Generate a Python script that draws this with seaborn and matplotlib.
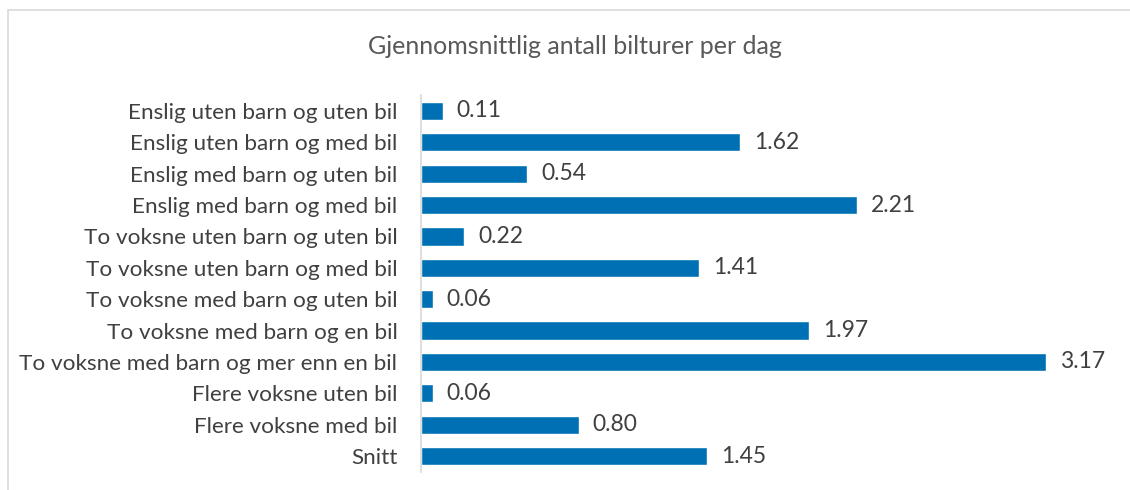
import matplotlib
matplotlib.use("Agg")
import matplotlib.pyplot as plt
import seaborn as sns
import pandas as pd
from matplotlib.patches import Rectangle

categories = [
    "Enslig uten barn og uten bil",
    "Enslig uten barn og med bil",
    "Enslig med barn og uten bil",
    "Enslig med barn og med bil",
    "To voksne uten barn og uten bil",
    "To voksne uten barn og med bil",
    "To voksne med barn og uten bil",
    "To voksne med barn og en bil",
    "To voksne med barn og mer enn en bil",
    "Flere voksne uten bil",
    "Flere voksne med bil",
    "Snitt",
]
trips = [0.11, 1.62, 0.54, 2.21, 0.22, 1.41, 0.06, 1.97, 3.17, 0.06, 0.80, 1.45]
title = "Gjennomsnittlig antall bilturer per dag"

df = pd.DataFrame({"kategori": categories, "turer": trips})

sns.set_theme(style="white")
plt.rcParams["font.family"] = ["Lato", "DejaVu Sans"]

fig = plt.figure(figsize=(11.3, 4.9), dpi=100)
ax = fig.add_axes([421 / 1130, 1 - 471.7 / 490, (1111 - 421) / 1130, (471.7 - 95.3) / 490])

sns.barplot(data=df, x="turer", y="kategori", color="#0070b4", width=0.58,
            saturation=1, ax=ax)

ax.set_xlim(0, 3.5)
ax.set_xlabel("")
ax.set_ylabel("")
ax.set_xticks([])
for s in ["top", "right", "bottom"]:
    ax.spines[s].set_visible(False)
ax.spines["left"].set_color("#d9d9d9")
ax.spines["left"].set_linewidth(1.2)
ax.tick_params(axis="y", length=0, pad=17, labelsize=16.2, labelcolor="#404040")

for i, v in enumerate(trips):
    ax.text(v + 0.07, i, f"{v:.2f}", va="center", ha="left",
            fontsize=16.5, color="#404040")

fig.text(575 / 1130, 1 - 47 / 490, title, ha="center", va="center",
         fontsize=18, color="#595959")

# chart frame
fig.patches.append(Rectangle((8 / 1130, -0.1), 1.2, 1 - 10 / 490 + 0.1,
                             transform=fig.transFigure, fill=False,
                             edgecolor="#d9d9d9", linewidth=1.2, zorder=-1))

fig.savefig("out.png", dpi=100)
